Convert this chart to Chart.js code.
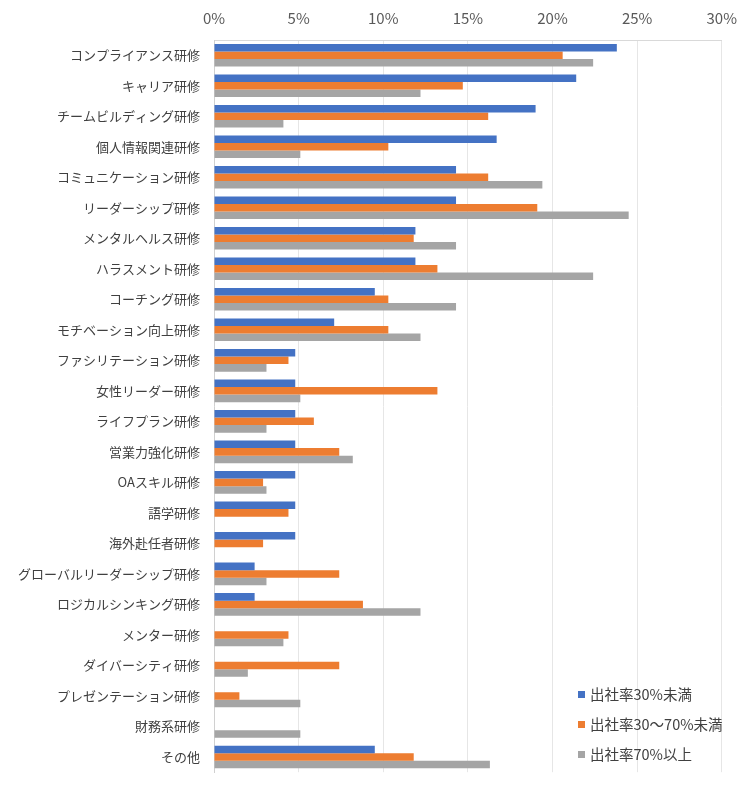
<!DOCTYPE html>
<html>
<head>
<meta charset="utf-8">
<script src="https://cdn.jsdelivr.net/npm/chart.js@4.4.1/dist/chart.umd.min.js"></script>
<style>
    body { margin: 0; background: #fff; }
    #wrap { position: relative; width: 750px; height: 794px; }
    #legend { position: absolute; left: 578px; top: 683px; font: 14.5px "Noto Sans CJK JP", sans-serif; color: #404040; }
    #legend div { height: 30px; line-height: 22px; white-space: nowrap; }
    #legend span { display: inline-block; width: 7px; height: 7px; margin-right: 5px; vertical-align: 2px; }
</style>
</head>
<body>
<div id="wrap">
    <canvas id="chart" width="750" height="794"></canvas>
    <div id="legend"></div>
</div>
<script>
/* ================================
   DATA
================================ */
const categories = [
    "コンプライアンス研修", "キャリア研修", "チームビルディング研修", "個人情報関連研修",
    "コミュニケーション研修", "リーダーシップ研修", "メンタルヘルス研修", "ハラスメント研修",
    "コーチング研修", "モチベーション向上研修", "ファシリテーション研修", "女性リーダー研修",
    "ライフプラン研修", "営業力強化研修", "OAスキル研修", "語学研修",
    "海外赴任者研修", "グローバルリーダーシップ研修", "ロジカルシンキング研修", "メンター研修",
    "ダイバーシティ研修", "プレゼンテーション研修", "財務系研修", "その他"
];

const seriesNames = ["出社率30%未満", "出社率30～70%未満", "出社率70%以上"];

const under30 = [23.8, 21.4, 19.0, 16.7, 14.3, 14.3, 11.9, 11.9, 9.5, 7.1, 4.8, 4.8,
                 4.8, 4.8, 4.8, 4.8, 4.8, 2.4, 2.4, 0, 0, 0, 0, 9.5];
const from30to70 = [20.6, 14.7, 16.2, 10.3, 16.2, 19.1, 11.8, 13.2, 10.3, 10.3, 4.4, 13.2,
                    5.9, 7.4, 2.9, 4.4, 2.9, 7.4, 8.8, 4.4, 7.4, 1.5, 0, 11.8];
const over70 = [22.4, 12.2, 4.1, 5.1, 19.4, 24.5, 14.3, 22.4, 14.3, 12.2, 3.1, 5.1,
                3.1, 8.2, 3.1, 0, 0, 3.1, 12.2, 4.1, 2.0, 5.1, 5.1, 16.3];

const xTicks = [0, 5, 10, 15, 20, 25, 30];

const colors = ["#4472C4", "#ED7D31", "#A5A5A5"];
const seriesData = [under30, from30to70, over70];

/* ================================
   CHART
================================ */
const font = "'Noto Sans CJK JP', sans-serif";

new Chart(document.getElementById("chart"), {
    type: "bar",
    data: {
        labels: categories,
        datasets: seriesData.map((d, i) => ({
            label: seriesNames[i],
            data: d,
            backgroundColor: colors[i],
            barPercentage: 1.0,
            categoryPercentage: 0.74
        }))
    },
    options: {
        indexAxis: "y",
        responsive: false,
        animation: false,
        layout: { padding: { top: 0, right: 27, bottom: 21, left: 0 } },
        plugins: {
            legend: { display: false },
            tooltip: { enabled: false }
        },
        scales: {
            x: {
                position: "top",
                min: 0,
                max: 30,
                afterBuildTicks: axis => { axis.ticks = xTicks.map(v => ({ value: v })); },
                afterFit: axis => { axis.height = 40; },
                ticks: {
                    callback: v => v + "%",
                    color: "#595959",
                    font: { family: font, size: 15 },
                    padding: 13
                },
                grid: { color: "#e6e6e6", drawTicks: false },
                border: { display: true, color: "#d9d9d9" }
            },
            y: {
                afterFit: axis => { axis.width = 214; },
                ticks: {
                    color: "#404040",
                    font: { family: font, size: 13 },
                    padding: 14
                },
                grid: { drawOnChartArea: false, drawTicks: false },
                border: { display: true, color: "#d0d0d0" }
            }
        }
    }
});

/* ================================
   LEGEND
================================ */
const legend = document.getElementById("legend");
seriesNames.forEach((name, i) => {
    const row = document.createElement("div");
    const box = document.createElement("span");
    box.style.background = colors[i];
    row.appendChild(box);
    row.appendChild(document.createTextNode(name));
    legend.appendChild(row);
});
</script>
</body>
</html>
